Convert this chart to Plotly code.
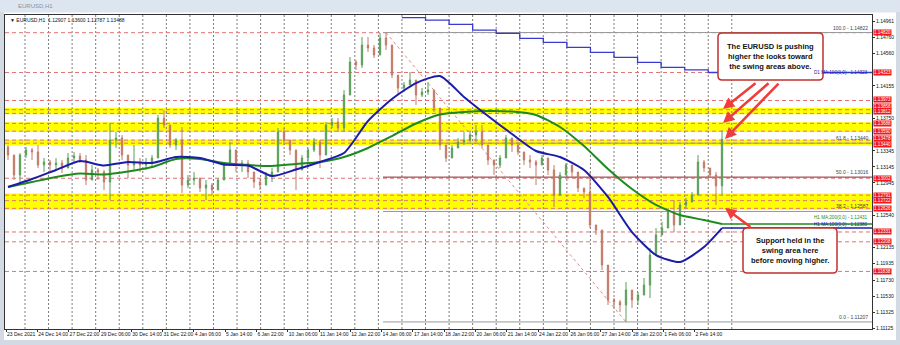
import plotly.graph_objects as go

# ---------------- DATA ----------------
first_open = 1.13392
high = [1.13417, 1.13292, 1.13317, 1.13392, 1.13380, 1.13417, 1.13255, 1.13230, 1.13255, 1.13230,
        1.13317, 1.13330, 1.13317, 1.13292, 1.13167, 1.13130, 1.13105, 1.13692, 1.13579, 1.13542,
        1.13292, 1.13417, 1.13255, 1.13255, 1.13292, 1.13792, 1.13854, 1.13667, 1.13504, 1.13642,
        1.13042, 1.13080, 1.13005, 1.12980, 1.12942, 1.13005, 1.13205, 1.13454, 1.13355, 1.13230,
        1.13230, 1.13080, 1.13005, 1.13080, 1.13130, 1.13629, 1.13629, 1.13479, 1.13355, 1.13292,
        1.13380, 1.13504, 1.13479, 1.13704, 1.13754, 1.13754, 1.14104, 1.14516, 1.14479, 1.14766,
        1.14766, 1.14666, 1.14816, 1.14822, 1.14666, 1.14291, 1.14204, 1.14329, 1.14229, 1.14129,
        1.14204, 1.14104, 1.13879, 1.13417, 1.13417, 1.13504, 1.13579, 1.13579, 1.13667, 1.13667,
        1.13417, 1.13230, 1.13292, 1.13542, 1.13504, 1.13454, 1.13330, 1.13292, 1.13230, 1.13292,
        1.13255, 1.13167, 1.13080, 1.13192, 1.13167, 1.13080, 1.12880, 1.13080, 1.12418, 1.12355,
        1.11918, 1.11506, 1.11481, 1.11706, 1.11606, 1.11581, 1.11756, 1.12130, 1.12380, 1.12455,
        1.12630, 1.12730, 1.12705, 1.12755, 1.12830, 1.13292, 1.13230, 1.13130, 1.13080, 1.13600]
low = [1.13230, 1.12980, 1.12917, 1.13255, 1.13230, 1.13130, 1.13080, 1.13080, 1.13105, 1.13067,
       1.13130, 1.13205, 1.13192, 1.12917, 1.12980, 1.12980, 1.12855, 1.12730, 1.13380, 1.13230,
       1.13005, 1.13105, 1.13080, 1.13105, 1.13130, 1.13255, 1.13629, 1.13380, 1.13355, 1.12817,
       1.12880, 1.12917, 1.12830, 1.12730, 1.12792, 1.12855, 1.12980, 1.13167, 1.13080, 1.13080,
       1.13005, 1.12880, 1.12855, 1.12917, 1.12955, 1.13080, 1.13417, 1.13292, 1.12855, 1.13105,
       1.13205, 1.13330, 1.13130, 1.13292, 1.13629, 1.13579, 1.13579, 1.14041, 1.14354, 1.14379,
       1.14579, 1.14504, 1.14541, 1.14604, 1.14254, 1.14041, 1.14079, 1.14166, 1.13917, 1.14017,
       1.14041, 1.13829, 1.13355, 1.13205, 1.13255, 1.13380, 1.13417, 1.13454, 1.13454, 1.13380,
       1.13167, 1.13042, 1.13130, 1.13255, 1.13330, 1.13292, 1.13167, 1.13130, 1.12917, 1.13167,
       1.13042, 1.12643, 1.12792, 1.13042, 1.13005, 1.12830, 1.12755, 1.12380, 1.12293, 1.11856,
       1.11419, 1.11381, 1.11331, 1.11207, 1.11381, 1.11419, 1.11543, 1.11506, 1.12043, 1.12293,
       1.12380, 1.12330, 1.12418, 1.12630, 1.12705, 1.12792, 1.13080, 1.13005, 1.12668, 1.12787]
close = [1.13292, 1.13042, 1.13292, 1.13355, 1.13330, 1.13167, 1.13205, 1.13167, 1.13192, 1.13130,
         1.13255, 1.13280, 1.13230, 1.12980, 1.13105, 1.13080, 1.12955, 1.13479, 1.13504, 1.13292,
         1.13167, 1.13205, 1.13167, 1.13205, 1.13255, 1.13754, 1.13667, 1.13417, 1.13479, 1.12917,
         1.12980, 1.13005, 1.12880, 1.12917, 1.12855, 1.12980, 1.13167, 1.13355, 1.13167, 1.13192,
         1.13080, 1.12955, 1.12917, 1.13042, 1.13080, 1.13579, 1.13479, 1.13355, 1.13105, 1.13255,
         1.13355, 1.13454, 1.13292, 1.13667, 1.13704, 1.13629, 1.14041, 1.14454, 1.14416, 1.14666,
         1.14629, 1.14541, 1.14753, 1.14666, 1.14291, 1.14129, 1.14166, 1.14229, 1.14041, 1.14079,
         1.14104, 1.13879, 1.13417, 1.13255, 1.13380, 1.13454, 1.13479, 1.13542, 1.13579, 1.13417,
         1.13230, 1.13167, 1.13255, 1.13504, 1.13417, 1.13330, 1.13230, 1.13205, 1.13167, 1.13255,
         1.13105, 1.12792, 1.13042, 1.13167, 1.13080, 1.12880, 1.12830, 1.12418, 1.12355, 1.11918,
         1.11481, 1.11456, 1.11419, 1.11606, 1.11481, 1.11543, 1.11668, 1.12043, 1.12293, 1.12380,
         1.12580, 1.12418, 1.12668, 1.12705, 1.12792, 1.13205, 1.13130, 1.13042, 1.12907, 1.13488]

# moving averages sampled every 4 candles (+ last candle)
ma_idx = list(range(0, 120, 4)) + [119]
ma100 = [1.12892, 1.12992, 1.13105, 1.13217, 1.13161, 1.13205, 1.13192, 1.13267, 1.13255, 1.13173,
         1.13161, 1.13030, 1.13111, 1.13205, 1.13317, 1.13717, 1.13992, 1.14191, 1.14279, 1.14017,
         1.13779, 1.13554, 1.13342, 1.13267, 1.13105, 1.12768, 1.12330, 1.12043, 1.11956, 1.12143,
         1.12380]
ma200 = [1.12892, 1.12955, 1.13017, 1.13061, 1.13049, 1.13086, 1.13142, 1.13242, 1.13242, 1.13192,
         1.13167, 1.13155, 1.13180, 1.13205, 1.13267, 1.13380, 1.13529, 1.13686, 1.13798, 1.13829,
         1.13842, 1.13835, 1.13792, 1.13642, 1.13404, 1.13117, 1.12867, 1.12668, 1.12543, 1.12480,
         1.12431]
# daily moving average (one value per day, days 16..29 of the chart)
daily_first_day = 16
daily_ma = [1.15007, 1.14978, 1.14925, 1.14853, 1.14812, 1.14750, 1.14700, 1.14637, 1.14575,
            1.14512, 1.14450, 1.14387, 1.14355, 1.14323]

fib_levels = [100.0, 61.8, 50.0, 38.2, 0.0]
fib_prices = [1.14822, 1.13440, 1.13016, 1.12587, 1.11207]
red_levels = [1.14820, 1.14323, 1.13973, 1.13858, 1.13812, 1.13688, 1.13590, 1.13478, 1.13440,
              1.13002, 1.12791, 1.12722, 1.12626, 1.12331, 1.12208, 1.11838]
bands = [(1.13800, 1.13880), (1.13580, 1.13700), (1.13415, 1.13485), (1.12610, 1.12810)]

x_labels = ["23 Dec 2021", "24 Dec 14:00", "27 Dec 22:00", "29 Dec 06:00", "30 Dec 14:00",
            "31 Dec 22:00", "4 Jan 06:00", "5 Jan 14:00", "6 Jan 22:00", "10 Jan 06:00",
            "11 Jan 14:00", "12 Jan 22:00", "14 Jan 06:00", "17 Jan 14:00", "18 Jan 22:00",
            "20 Jan 06:00", "21 Jan 14:00", "24 Jan 22:00", "26 Jan 06:00", "27 Jan 14:00",
            "28 Jan 22:00", "1 Feb 06:00", "2 Feb 14:00"]
# price-scale labels that remain visible (the others are covered by the red level tags)
y_ticks = [1.14961, 1.14760, 1.14560, 1.14155, 1.13750, 1.13345, 1.13145, 1.12945,
           1.12540, 1.12135, 1.11935, 1.11730, 1.11530, 1.11325, 1.11125]
header = "▼ EURUSD,H1  1.12907 1.13600 1.12787 1.13488"

# ---------------- LAYOUT GEOMETRY ----------------
W, H = 900, 345
LP, RP, TP, BP = 5, 872, 15, 329
STEP = 6          # candle spacing in axis units (1 unit ~ 1 px ~ 1 hour)
DAY = 23.56
X0, X1 = -3, 864
Y0, Y1 = 1.11119, 1.15041

def pxx(v):
    return (v - LP) / (RP - LP)

def pxy(v):
    return (BP - v) / (BP - TP)

n = len(close)
xs = [STEP * k for k in range(n)]
opens = [first_open] + close[:-1]
hi = [max(h, o, c) for h, o, c in zip(high, opens, close)]
lo = [min(l, o, c) for l, o, c in zip(low, opens, close)]

UP, DN = "#5c9e5c", "#c27a68"
fig = go.Figure()
fig.add_trace(go.Candlestick(
    x=xs, open=opens, high=hi, low=lo, close=close,
    increasing=dict(line=dict(color=UP, width=1), fillcolor=UP),
    decreasing=dict(line=dict(color=DN, width=1), fillcolor=DN),
    whiskerwidth=0, hoverinfo="skip", showlegend=False))

ma_x = [STEP * k for k in ma_idx]
fig.add_trace(go.Scatter(x=ma_x, y=ma200, mode="lines", line=dict(color="#1e8a1e", width=2, shape="spline", smoothing=0.6),
                         hoverinfo="skip", showlegend=False))
fig.add_trace(go.Scatter(x=ma_x, y=ma100, mode="lines", line=dict(color="#1c1caa", width=2, shape="spline", smoothing=0.6),
                         hoverinfo="skip", showlegend=False))
for val, col in [(ma200[-1], "#1e8a1e"), (ma100[-1], "#1c1caa")]:
    fig.add_trace(go.Scatter(x=[ma_x[-1], X1], y=[val, val], mode="lines", line=dict(color=col, width=1.5),
                             hoverinfo="skip", showlegend=False))
d_x = [17 + DAY * (daily_first_day + j) for j in range(len(daily_ma))] + [X1]
d_y = daily_ma + [daily_ma[-1]]
fig.add_trace(go.Scatter(x=d_x, y=d_y, mode="lines", line=dict(color="#3a3ad0", width=1.3, shape="hv"),
                         hoverinfo="skip", showlegend=False))

shapes = []
for a, b in bands:
    shapes.append(dict(type="rect", xref="paper", yref="y", x0=0, x1=1, y0=a, y1=b,
                       fillcolor="#ffff00", line=dict(width=0), layer="below"))
j = 0
while 17 + DAY * j < 725:
    gx = 17 + DAY * j
    shapes.append(dict(type="line", xref="x", yref="paper", x0=gx, x1=gx, y0=0, y1=1,
                       line=dict(color="#7c7c7c", width=1, dash="2px,2px"), layer="below"))
    j += 1
for v in red_levels:
    shapes.append(dict(type="line", xref="paper", yref="y", x0=0, x1=1, y0=v, y1=v,
                       line=dict(color="#e47272", width=1, dash="4px,3px"), layer="below"))
hi_k = hi.index(max(hi))
lo_k = lo.index(min(lo))
fib_x0 = xs[hi_k] - 3
for lvl, v in zip(fib_levels, fib_prices):
    col = "#7a2e2e" if lvl == 50.0 else "#9a9a9a"
    shapes.append(dict(type="line", xref="x", yref="y", x0=fib_x0, x1=X1, y0=v, y1=v,
                       line=dict(color=col, width=1), layer="below"))
shapes.append(dict(type="line", xref="x", yref="y", x0=xs[hi_k], y0=fib_prices[0], x1=xs[lo_k], y1=fib_prices[-1],
                   line=dict(color="#e08a8a", width=1, dash="dot"), layer="below"))

def rbox(x0, y0, x1, y1, r=4):
    X0p, X1p = pxx(x0), pxx(x1)
    Y0p, Y1p = pxy(y0), pxy(y1)
    rx = r / (RP - LP)
    ry = r / (BP - TP)
    return (f"M {X0p+rx} {Y0p} L {X1p-rx} {Y0p} Q {X1p} {Y0p} {X1p} {Y0p-ry} "
            f"L {X1p} {Y1p+ry} Q {X1p} {Y1p} {X1p-rx} {Y1p} L {X0p+rx} {Y1p} "
            f"Q {X0p} {Y1p} {X0p} {Y1p+ry} L {X0p} {Y0p-ry} Q {X0p} {Y0p} {X0p+rx} {Y0p} Z")

for (bx0, by0, bx1, by1) in [(718, 33, 823, 80), (743, 228, 837, 273)]:
    shapes.append(dict(type="path", xref="paper", yref="paper", path=rbox(bx0, by0, bx1, by1),
                       fillcolor="white", line=dict(color="#c0302e", width=1.5), layer="above"))

shapes.append(dict(type="rect", xref="paper", yref="paper", x0=pxx(0), x1=pxx(900), y0=pxy(0), y1=pxy(12.5),
                   fillcolor="#dde6f0", line=dict(width=0), layer="below"))
for (a, b, c, d) in [(0, 12, 4, 345), (896, 12, 900, 345), (0, 340, 900, 345)]:
    shapes.append(dict(type="rect", xref="paper", yref="paper", x0=pxx(a), x1=pxx(c), y0=pxy(b), y1=pxy(d),
                       fillcolor="#d3dae3", line=dict(width=0), layer="below"))

ann = []
FONT = "Liberation Sans"
ann.append(dict(xref="paper", yref="paper", x=pxx(16), y=pxy(6.5), text="EURUSD,H1", showarrow=False,
                xanchor="left", yanchor="middle", font=dict(family=FONT, size=6, color="#8893a0")))
ann.append(dict(xref="paper", yref="paper", x=pxx(8), y=pxy(20), text=header, showarrow=False,
                xanchor="left", yanchor="middle", font=dict(family=FONT, size=5, color="#111")))
for lvl, v in zip(fib_levels, fib_prices):
    ann.append(dict(xref="paper", yref="y", x=pxx(870), y=v, text=f"{lvl:.1f} - {v:.5f}", showarrow=False,
                    xanchor="right", yanchor="bottom", font=dict(family=FONT, size=5, color="#444")))
ann.append(dict(xref="paper", yref="y", x=pxx(870), y=ma200[-1], yshift=2, text=f"H1 MA:200(0,0) - {ma200[-1]:.5f}",
                showarrow=False, xanchor="right", yanchor="bottom", font=dict(family=FONT, size=4.6, color="#1e8a1e")))
ann.append(dict(xref="paper", yref="y", x=pxx(870), y=ma100[-1], yshift=-1, text=f"H1 MA:100(0,0) - {ma100[-1]:.5f}",
                showarrow=False, xanchor="right", yanchor="bottom", font=dict(family=FONT, size=4.6, color="#1c1caa")))
ann.append(dict(xref="paper", yref="y", x=pxx(870), y=daily_ma[-1], text=f"D1 MA:100(0,0) - {daily_ma[-1]:.5f}",
                showarrow=False, xanchor="right", yanchor="middle", font=dict(family=FONT, size=4.6, color="#1c1caa")))
# red price tags; tags closer than ~6 px are nudged apart
tag_shift = {1.13973: 1, 1.13858: 3, 1.13812: 1.5, 1.13478: 1.5, 1.13440: -1.5}
for v in red_levels:
    ann.append(dict(xref="paper", yref="y", x=1, y=v, xanchor="left", yanchor="middle", xshift=1,
                    yshift=tag_shift.get(v, 0),
                    text=f"{v:.5f}", showarrow=False, bgcolor="#f01818", borderpad=0,
                    font=dict(family=FONT, size=4.6, color="white")))
ann.append(dict(xref="paper", yref="paper", x=pxx(770.5), y=pxy(56.5), showarrow=False,
                xanchor="center", yanchor="middle",
                text="<b>The EURUSD is pushing<br>higher the looks toward<br>the swing areas above.</b>",
                font=dict(family=FONT, size=7.5, color="#111"), align="center"))
ann.append(dict(xref="paper", yref="paper", x=pxx(790), y=pxy(250.5), showarrow=False,
                xanchor="center", yanchor="middle",
                text="<b>Support held in the<br>swing area here<br>before moving higher.</b>",
                font=dict(family=FONT, size=7.5, color="#111"), align="center"))
for hx, hy, ax, ay in [(715, 1.13867, 34, -27), (715, 1.13692, 47, -41), (717, 1.13492, 55, -57),
                       (717, 1.12630, 27, 20)]:
    ann.append(dict(x=hx, y=hy, xref="x", yref="y", ax=ax, ay=ay, text="", showarrow=True,
                    arrowhead=2, arrowsize=0.9, arrowwidth=2.5, arrowcolor="#f03c3c"))

fig.update_layout(
    width=W, height=H, margin=dict(l=LP, r=W - RP, t=TP, b=H - BP, autoexpand=False),
    paper_bgcolor="white", plot_bgcolor="white", showlegend=False,
    shapes=shapes, annotations=ann, boxgap=0.68,
    xaxis=dict(range=[X0, X1], rangeslider=dict(visible=False), showgrid=False, zeroline=False,
               automargin=False, tickangle=0,
               tickvals=[-2 + 31.3 * i for i in range(len(x_labels))], ticktext=x_labels,
               ticklabelposition="outside right", ticks="outside", ticklen=2, tickcolor="#333",
               tickfont=dict(family=FONT, size=5, color="#111"),
               showline=True, linecolor="#333", linewidth=1, mirror=True),
    yaxis=dict(range=[Y0, Y1], side="right", showgrid=False, zeroline=False, automargin=False,
               tickvals=y_ticks, ticktext=[f"{v:.5f}" for v in y_ticks], ticks="outside", ticklen=2,
               tickcolor="#333", tickfont=dict(family=FONT, size=5, color="#111"),
               showline=True, linecolor="#333", linewidth=1, mirror=True),
)
fig.write_html("out.html")
